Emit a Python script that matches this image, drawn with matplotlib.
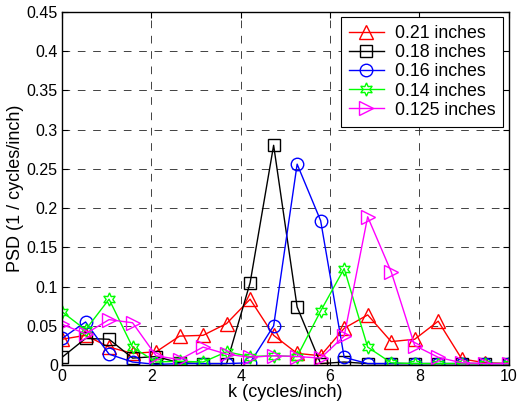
import numpy as np
import matplotlib
matplotlib.use("Agg")
import matplotlib.pyplot as plt

plt.rcParams['font.family'] = ['Liberation Sans', 'DejaVu Sans']

k = np.linspace(0, 10, 20)

psd_021 = [0.033, 0.038, 0.023, 0.015, 0.017, 0.037, 0.038, 0.053, 0.084, 0.038,
           0.015, 0.012, 0.047, 0.064, 0.030, 0.033, 0.056, 0.008, 0.003, 0.002]
psd_018 = [0.010, 0.034, 0.033, 0.009, 0.011, 0.003, 0.002, 0.002, 0.105, 0.280,
           0.074, 0.002, 0.004, 0.002, 0.002, 0.002, 0.002, 0.002, 0.002, 0.002]
psd_016 = [0.034, 0.055, 0.014, 0.004, 0.001, 0.002, 0.002, 0.002, 0.003, 0.050,
           0.256, 0.184, 0.010, 0.002, 0.002, 0.002, 0.002, 0.002, 0.002, 0.002]
psd_014 = [0.068, 0.045, 0.084, 0.023, 0.004, 0.005, 0.004, 0.017, 0.011, 0.012,
           0.011, 0.069, 0.123, 0.023, 0.003, 0.002, 0.002, 0.002, 0.002, 0.002]
psd_0125 = [0.052, 0.040, 0.058, 0.054, 0.012, 0.007, 0.023, 0.014, 0.010, 0.012,
            0.011, 0.009, 0.037, 0.189, 0.119, 0.025, 0.010, 0.003, 0.002, 0.002]

labels = ['0.21 inches', '0.18 inches', '0.16 inches', '0.14 inches', '0.125 inches']
series = [psd_021, psd_018, psd_016, psd_014, psd_0125]
colors = ['#ff0000', '#000000', '#0000ff', '#00ff00', '#ff00ff']
markers = ['^', 's', 'o', (6, 1, 0), '>']
msizes = [9.5, 8, 9, 9.5, 9.5]

fig = plt.figure(figsize=(5.17, 4.08), dpi=100)
ax = fig.add_axes([0.120, 0.105, 0.864, 0.866])

for y, lab, c, m, ms in zip(series, labels, colors, markers, msizes):
    ax.plot(k, y, color=c, marker=m, markersize=ms, fillstyle='none',
            markeredgewidth=1.0, linewidth=1.0, label=lab)

ax.set_xlim(0, 10)
ax.set_ylim(0, 0.45)
ax.set_xticks([0, 2, 4, 6, 8, 10])
ax.set_xticklabels(['0', '2', '4', '6', '8', '10'])
ax.set_yticks([0, 0.05, 0.1, 0.15, 0.2, 0.25, 0.3, 0.35, 0.4, 0.45])
ax.set_yticklabels(['0', '0.05', '0.1', '0.15', '0.2', '0.25', '0.3', '0.35', '0.4', '0.45'])
ax.tick_params(direction='in', length=4, labelsize=11.5, top=True, right=True, pad=3)
ax.grid(True, color='#222222', linestyle=(0, (9.2, 9.2)), linewidth=0.6)
for s in ax.spines.values():
    s.set_linewidth(1.0)

ax.set_xlabel('k (cycles/inch)', fontsize=13, labelpad=0)
ax.set_ylabel('PSD (1 / cycles/inch)', fontsize=13, labelpad=2)

leg = ax.legend(loc='upper right', fontsize=12.8, frameon=True, fancybox=False,
                edgecolor='black', framealpha=1, borderaxespad=0.3,
                handlelength=2.0, handletextpad=0.6, labelspacing=0.12,
                borderpad=0.45)
leg.get_frame().set_linewidth(0.8)

fig.savefig('out.png', dpi=100)
